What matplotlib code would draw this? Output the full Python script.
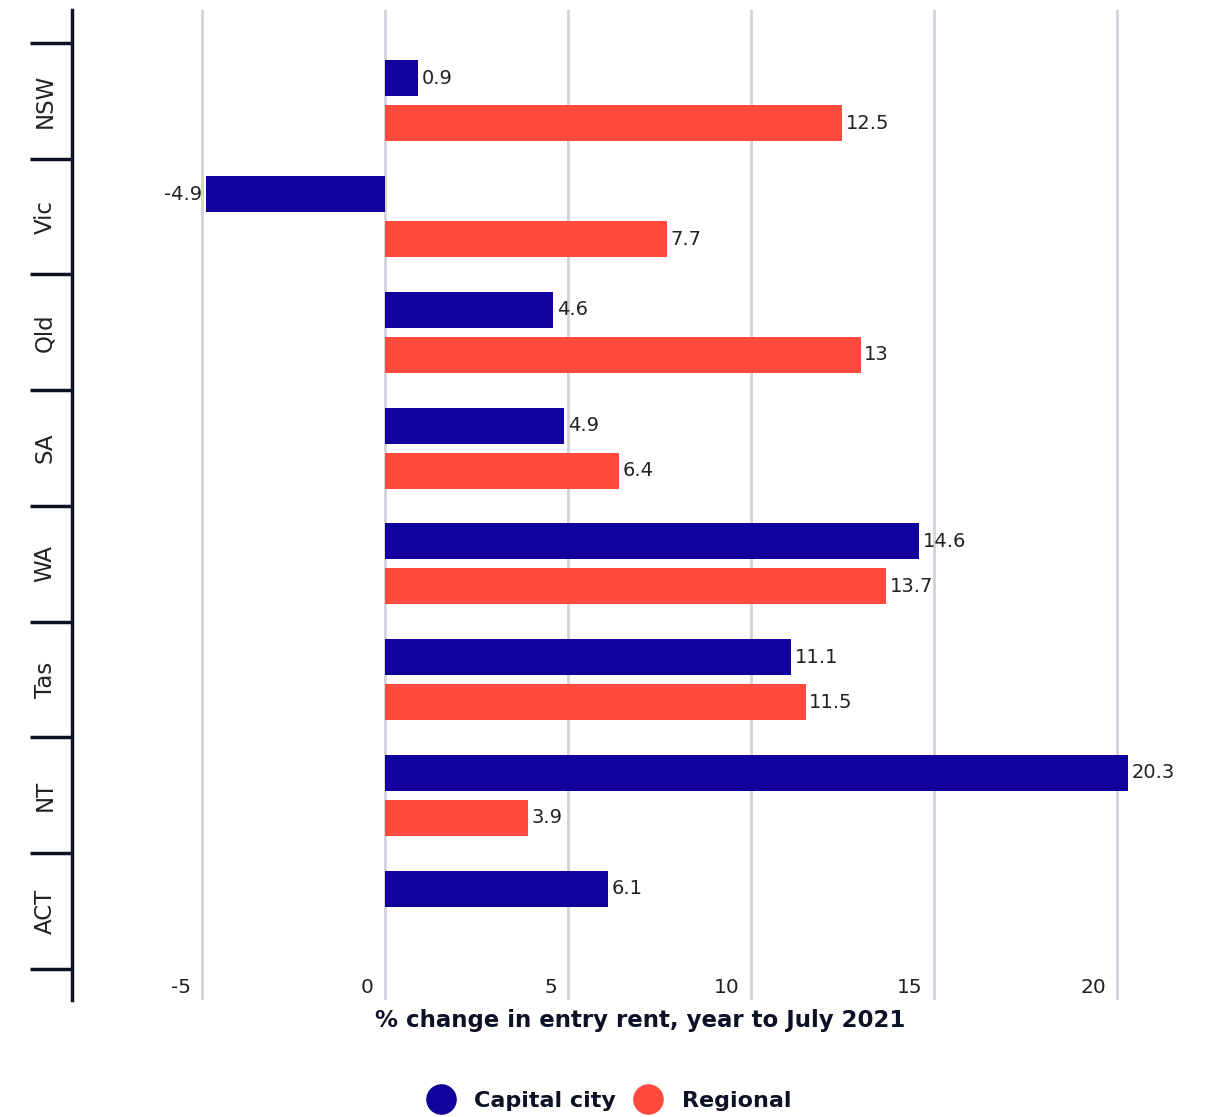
import numpy as np
import matplotlib
matplotlib.use('Agg')
import matplotlib.pyplot as plt
from matplotlib.lines import Line2D
import matplotlib.transforms as mtransforms

states = ['NSW', 'Vic', 'Qld', 'SA', 'WA', 'Tas', 'NT', 'ACT']
capital = [0.9, -4.9, 4.6, 4.9, 14.6, 11.1, 20.3, 6.1]
regional = [12.5, 7.7, 13, 6.4, 13.7, 11.5, 3.9, None]  # no regional ACT
xticks = [-5, 0, 5, 10, 15, 20]

BLUE = '#12009a'
RED = '#ff4a3d'
NAVY = '#0d1126'
GRID = '#d2d2da'
TXT = '#222222'

plt.rcParams['font.family'] = ['DejaVu Sans']

fig = plt.figure(figsize=(12.15, 11.17), dpi=100)
W, H = 1215, 1117
ax = fig.add_axes([72 / W, (H - 1000) / H, (1200 - 72) / W, 990 / H])

y = np.arange(len(states))
bh = 0.311
off = 0.194

ax.barh(y - off, capital, height=bh, color=BLUE, zorder=3)
reg_y = [yy + off for yy, v in zip(y, regional) if v is not None]
reg_v = [v for v in regional if v is not None]
ax.barh(reg_y, reg_v, height=bh, color=RED, zorder=3)

# value labels
for yy, v in zip(y - off, capital):
    ax.annotate(str(v), (v, yy), xytext=(2.5 if v >= 0 else -2.5, 0), textcoords='offset points',
                ha='left' if v >= 0 else 'right', va='center', fontsize=14, color=TXT, zorder=4)
for yy, v in zip(reg_y, reg_v):
    ax.annotate(f'{v:g}', (v, yy), xytext=(2.5, 0), textcoords='offset points',
                ha='left', va='center', fontsize=14, color=TXT, zorder=4)

ax.set_xlim(-8.55, 22.27)
ax.set_ylim(7.768, -0.785)

# x grid + labels drawn inside the plot, left of each line
ax.set_xticks(xticks)
ax.set_xticklabels([])
ax.tick_params(axis='x', length=0)
ax.grid(axis='x', color=GRID, lw=2, zorder=0)
trans = mtransforms.blended_transform_factory(ax.transData, ax.transAxes)
for t in xticks:
    ax.annotate(str(t), (t, 0.013), xycoords=trans, xytext=(-8, 0), textcoords='offset points',
                ha='right', va='center', fontsize=14.5, color=TXT)

# y axis: separators as long ticks, names centred between them
ax.set_yticks(np.arange(len(states) + 1) - 0.5)
ax.set_yticklabels([])
ax.tick_params(axis='y', which='major', length=30, width=2.5, color=NAVY)
ax.set_yticks(y, minor=True)
ax.set_yticklabels(states, minor=True, rotation=90, va='center', fontsize=16.5, color=TXT)
ax.tick_params(axis='y', which='minor', length=0, pad=11)

for s in ['top', 'right', 'bottom']:
    ax.spines[s].set_visible(False)
ax.spines['left'].set_color(NAVY)
ax.spines['left'].set_linewidth(2.5)

fig.text(640 / W, 1 - 1021 / H, '% change in entry rent, year to July 2021',
         ha='center', va='center', fontsize=16.5, fontweight='bold', color=NAVY)

handles = [Line2D([], [], marker='o', ls='', color=BLUE, markersize=21),
           Line2D([], [], marker='o', ls='', color=RED, markersize=21)]
fig.legend(handles, ['Capital city', 'Regional'], loc='center', ncol=2,
           bbox_to_anchor=(605 / W, 1 - 1101 / H), frameon=False,
           prop={'size': 16, 'weight': 'bold'}, handletextpad=0.5, columnspacing=0.45,
           labelcolor=NAVY)

fig.savefig('out.png', dpi=100)
